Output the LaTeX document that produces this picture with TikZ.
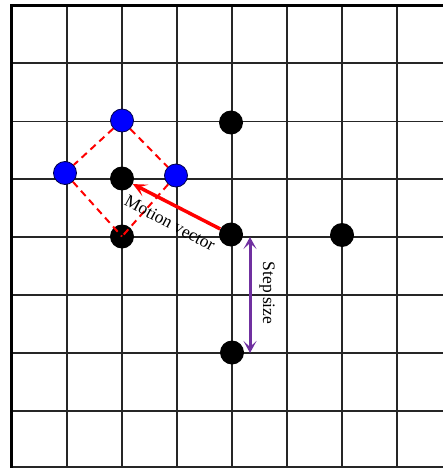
\documentclass[tikz,border=0pt]{standalone}
\usepackage{fontspec}
\setmainfont{Liberation Serif}
\usetikzlibrary{arrows.meta}
\definecolor{mvpurple}{HTML}{7030A0}
\tikzset{
  gridline/.style={line width=1.4pt, draw=black!85},
  border/.style={line width=3pt, draw=black},
  blackdot/.style={circle, fill=black, inner sep=0pt, minimum size=24pt},
  bluedot/.style={circle, fill=blue, draw=black!70!blue, line width=0.8pt, inner sep=0pt, minimum size=23pt},
  searchline/.style={red, line width=2pt, dash pattern=on 7pt off 5pt},
  motion/.style={red, line width=3.5pt, -{Stealth[length=14pt,width=13pt,inset=7pt]}},
  stepline/.style={mvpurple, line width=3pt, {Stealth[length=12pt,width=13pt,inset=6pt]}-{Stealth[length=12pt,width=13pt,inset=6pt]}},
  lbl/.style={font=\fontsize{17.5}{19}\selectfont, inner sep=0pt}
}
\begin{document}
\begin{tikzpicture}[x=1pt,y=-1pt]
\useasboundingbox (0,0) rectangle (443,468);
\fill[white] (0,0) rectangle (443,468);
% grid
\foreach \x in {67,122,177,232,287,342,397}
  \draw[gridline] (\x,6) -- (\x,468);
\foreach \y in {63,121.5,179,237,295,353,411,467}
  \draw[gridline] (11,\y) -- (443,\y);
\draw[border] (443,6) -- (11,6) -- (11,468);
% search points
\node[blackdot] (mc) at (122,178.5) {};
\node[blackdot] (bb) at (122,236.5) {};
\node[blackdot] (tr) at (231,122.5) {};
\node[blackdot] (rc) at (231,234.5) {};
\node[blackdot] (rr) at (342,235) {};
\node[blackdot] (bt) at (232,352.5) {};
\node[bluedot] (tb) at (122,120.5) {};
\node[bluedot] (lb) at (65,173) {};
\node[bluedot] (rb) at (176,175.5) {};
% small diamond pattern
\draw[searchline] (tb) -- (lb);
\draw[searchline] (tb) -- (rb);
\draw[searchline] (lb) -- (bb.center);
\draw[searchline] (rb) -- (bb.center);
% motion vector
\draw[motion] (rc) -- (mc);
\node[lbl, rotate=-28] (mvl) at (170,223) {Motion vector};
% step size
\coordinate (s1) at (250,237);
\coordinate (s2) at (250,353);
\draw[stepline] (s1) -- (s2);
\node[lbl, rotate=-90] (ssl) at (267,293) {Step size};
\end{tikzpicture}
\end{document}
